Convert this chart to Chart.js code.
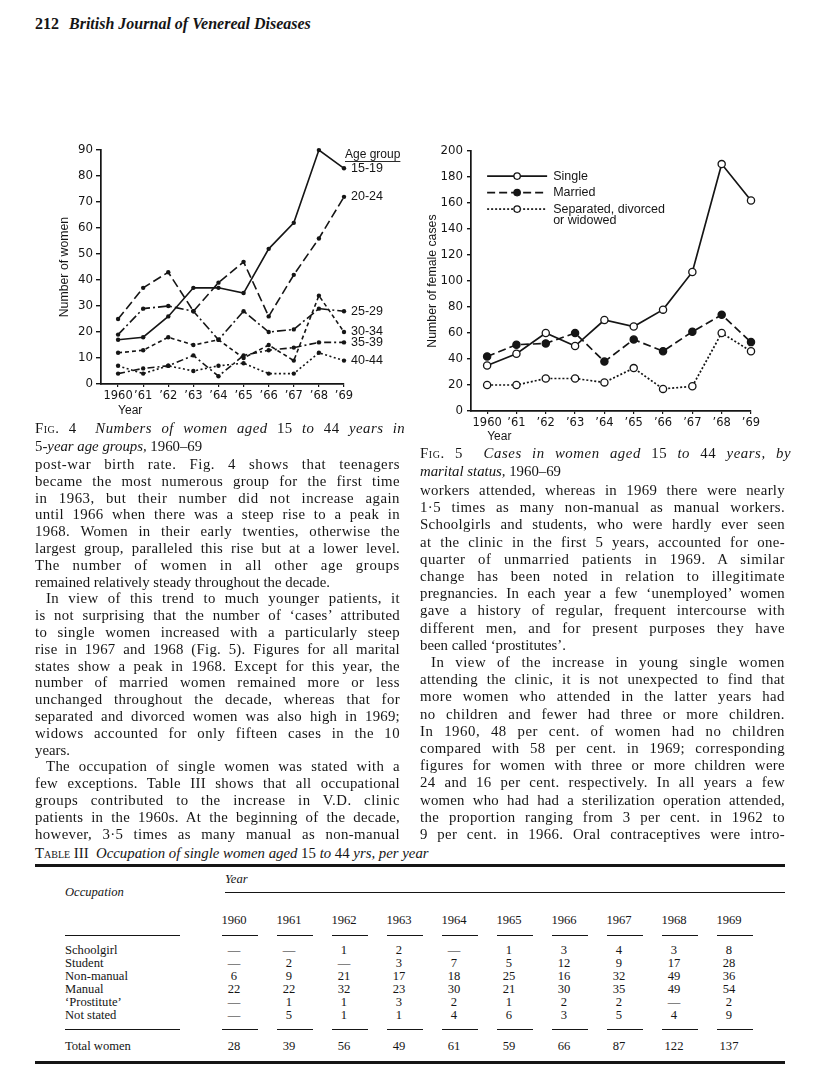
<!DOCTYPE html>
<html>
<head>
<meta charset="utf-8">
<script src="https://cdn.jsdelivr.net/npm/chart.js@4.4.0/dist/chart.umd.min.js"></script>
<style>
  body { margin: 0; width: 816px; height: 1087px; position: relative; overflow: hidden; background: #fff; color: #151515; font-family: "Liberation Serif", serif; }
  .abs { position: absolute; white-space: nowrap; }
  .col { position: absolute; width: 365px; font-size: 14.8px; line-height: 17px; }
  .col div { white-space: nowrap; }
  .col div.i { text-indent: 11px; }
  .sc { font-variant: small-caps; }
  .cap { font-size: 14.8px; line-height: 18px; }
  .rule { position: absolute; background: #151515; }
  .tbl { position: absolute; font-size: 12.6px; white-space: nowrap; }
</style>
</head>
<body>

<div class="abs" style="left:35px; top:15px; font-size:16px; font-weight:bold;">212 <i style="margin-left:6px;">British Journal of Venereal Diseases</i></div>

<div class="abs" style="left:50px; top:140px;"><canvas id="fig4" width="362" height="285"></canvas></div>
<div class="abs" style="left:420px; top:140px;"><canvas id="fig5" width="370" height="305"></canvas></div>

<div class="col cap" style="left:35px; top:419px;">
  <div class="j"><span class="sc">Fig</span>. 4 &nbsp;<i>Numbers of women aged</i> 15 <i>to</i> 44 <i>years in</i></div>
  <div>5<i>-year age groups,</i> 1960–69</div>
</div>
<div class="col cap" style="left:420px; top:444px;">
  <div class="j"><span class="sc">Fig</span>. 5 &nbsp;<i>Cases in women aged</i> 15 <i>to</i> 44 <i>years, by</i></div>
  <div><i>marital status,</i> 1960–69</div>
</div>

<div class="col" style="left:35px; top:456px; line-height:16.8px;">
  <div class="j">post-war birth rate. Fig. 4 shows that teenagers</div>
  <div class="j">became the most numerous group for the first time</div>
  <div class="j">in 1963, but their number did not increase again</div>
  <div class="j">until 1966 when there was a steep rise to a peak in</div>
  <div class="j">1968. Women in their early twenties, otherwise the</div>
  <div class="j">largest group, paralleled this rise but at a lower level.</div>
  <div class="j">The number of women in all other age groups</div>
  <div>remained relatively steady throughout the decade.</div>
  <div class="j i">In view of this trend to much younger patients, it</div>
  <div class="j">is not surprising that the number of ‘cases’ attributed</div>
  <div class="j">to single women increased with a particularly steep</div>
  <div class="j">rise in 1967 and 1968 (Fig. 5). Figures for all marital</div>
  <div class="j">states show a peak in 1968. Except for this year, the</div>
  <div class="j">number of married women remained more or less</div>
  <div class="j">unchanged throughout the decade, whereas that for</div>
  <div class="j">separated and divorced women was also high in 1969;</div>
  <div class="j">widows accounted for only fifteen cases in the 10</div>
  <div>years.</div>
  <div class="j i">The occupation of single women was stated with a</div>
  <div class="j">few exceptions. Table III shows that all occupational</div>
  <div class="j">groups contributed to the increase in V.D. clinic</div>
  <div class="j">patients in the 1960s. At the beginning of the decade,</div>
  <div class="j">however, 3·5 times as many manual as non-manual</div>
</div>

<div class="col" style="left:420px; top:482px; line-height:17.2px;">
  <div class="j">workers attended, whereas in 1969 there were nearly</div>
  <div class="j">1·5 times as many non-manual as manual workers.</div>
  <div class="j">Schoolgirls and students, who were hardly ever seen</div>
  <div class="j">at the clinic in the first 5 years, accounted for one-</div>
  <div class="j">quarter of unmarried patients in 1969. A similar</div>
  <div class="j">change has been noted in relation to illegitimate</div>
  <div class="j">pregnancies. In each year a few ‘unemployed’ women</div>
  <div class="j">gave a history of regular, frequent intercourse with</div>
  <div class="j">different men, and for present purposes they have</div>
  <div>been called ‘prostitutes’.</div>
  <div class="j i">In view of the increase in young single women</div>
  <div class="j">attending the clinic, it is not unexpected to find that</div>
  <div class="j">more women who attended in the latter years had</div>
  <div class="j">no children and fewer had three or more children.</div>
  <div class="j">In 1960, 48 per cent. of women had no children</div>
  <div class="j">compared with 58 per cent. in 1969; corresponding</div>
  <div class="j">figures for women with three or more children were</div>
  <div class="j">24 and 16 per cent. respectively. In all years a few</div>
  <div class="j">women who had had a sterilization operation attended,</div>
  <div class="j">the proportion ranging from 3 per cent. in 1962 to</div>
  <div class="j">9 per cent. in 1966. Oral contraceptives were intro-</div>
</div>

<div class="abs cap" style="left:35px; top:844px;"><span class="sc">Table III</span> &nbsp;<i>Occupation of single women aged</i> 15 <i>to</i> 44 <i>yrs, per year</i></div>
<div id="table"></div>

<script>
// Fig. 4 data
const years = [1960, 1961, 1962, 1963, 1964, 1965, 1966, 1967, 1968, 1969];
const yearLabels = ['1960', '’61', '’62', '’63', '’64', '’65', '’66', '’67', '’68', '’69'];
const ageGroups = ['15-19', '20-24', '25-29', '30-34', '35-39', '40-44'];
const age1519 = [17, 18, 26, 37, 37, 35, 52, 62, 90, 83];
const age2024 = [25, 37, 43, 28, 39, 47, 26, 42, 56, 72];
const age2529 = [19, 29, 30, 28, 17, 28, 20, 21, 29, 28];
const age3034 = [12, 13, 18, 15, 17, 10, 15, 9, 34, 20];
const age3539 = [4, 6, 7, 11, 3, 11, 13, 14, 16, 16];
const age4044 = [7, 4, 7, 5, 7, 8, 4, 4, 12, 9];

// Fig. 5 data
const statusNames = ['Single', 'Married', 'Separated, divorced|or widowed'];
const single = [35, 44, 60, 50, 70, 65, 78, 107, 190, 162];
const married = [42, 51, 52, 60, 38, 55, 46, 61, 74, 53];
const separated = [20, 20, 25, 25, 22, 33, 17, 19, 60, 46];

// Table III data
const occupations = ['Schoolgirl', 'Student', 'Non-manual', 'Manual', '‘Prostitute’', 'Not stated'];
const schoolgirl = ['—', '—', '1', '2', '—', '1', '3', '4', '3', '8'];
const student = ['—', '2', '—', '3', '7', '5', '12', '9', '17', '28'];
const nonManual = ['6', '9', '21', '17', '18', '25', '16', '32', '49', '36'];
const manual = ['22', '22', '32', '23', '30', '21', '30', '35', '49', '54'];
const prostitute = ['—', '1', '1', '3', '2', '1', '2', '2', '—', '2'];
const notStated = ['—', '5', '1', '1', '4', '6', '3', '5', '4', '9'];
const totalWomen = ['28', '39', '56', '49', '61', '59', '66', '87', '122', '137'];

const ink = '#151515';
const figFont = '"DejaVu Sans", sans-serif';
const labelFont = '"Liberation Sans", sans-serif';

// justify each text line to the column width
document.querySelectorAll('.col div.j').forEach(el => {
  el.style.display = 'inline-block';
  const w = el.getBoundingClientRect().width;
  const text = el.textContent.trim();
  const spaces = (text.match(/\s+/g) || []).length;
  const chars = text.length;
  const extra = 365 - w;
  el.style.display = 'block';
  if (extra > 0) {
    el.style.letterSpacing = (extra * 0.3 / chars) + 'px';
    el.style.wordSpacing = (extra * 0.7 / spaces) + 'px';
  } else {
    el.style.letterSpacing = (extra * 0.5 / chars) + 'px';
    el.style.wordSpacing = (extra * 0.5 / spaces) + 'px';
  }
});

function pts(vals) {
  return vals.map((v, i) => ({ x: years[i], y: v }));
}

function xScale(min, max, height) {
  return {
    type: 'linear', min: min, max: max,
    afterBuildTicks: s => { s.ticks = years.map(v => ({ value: v })); },
    afterFit: s => { s.height = height; },
    ticks: {
      callback: v => yearLabels[years.indexOf(v)],
      color: ink, font: { family: figFont, size: 11.5 }, padding: 2,
      maxRotation: 0, autoSkip: false
    },
    grid: { drawOnChartArea: false, drawTicks: true, tickLength: 3, color: ink, lineWidth: 1.2 },
    border: { color: ink, width: 1.7 }
  };
}

function yScale(max, step, width, tickLen, pad) {
  return {
    min: 0, max: max,
    afterFit: s => { s.width = width; },
    ticks: { stepSize: step, color: ink, font: { family: figFont, size: 11.8 }, padding: pad },
    grid: { drawOnChartArea: false, drawTicks: true, tickLength: tickLen, color: ink, lineWidth: 1.4 },
    border: { color: ink, width: 1.7 }
  };
}

function drawYTitle(ctx, text, x, y) {
  ctx.save();
  ctx.translate(x, y);
  ctx.rotate(-Math.PI / 2);
  ctx.textAlign = 'center';
  ctx.textBaseline = 'middle';
  ctx.fillStyle = ink;
  ctx.font = '12.3px ' + labelFont;
  ctx.fillText(text, 0, 0);
  ctx.restore();
}

const fig4Labels = {
  id: 'fig4Labels',
  afterDraw(chart) {
    const ctx = chart.ctx;
    const area = chart.chartArea;
    ctx.save();
    ctx.fillStyle = ink;
    ctx.font = '12.5px ' + labelFont;
    ctx.textBaseline = 'middle';
    chart.data.datasets.forEach((ds, i) => {
      const p = chart.getDatasetMeta(i).data[years.length - 1];
      ctx.fillText(ageGroups[i], p.x + 7, p.y);
    });
    const last = chart.getDatasetMeta(0).data[years.length - 1];
    ctx.font = '12px ' + labelFont;
    ctx.fillText('Age group', last.x + 1, area.top + 5);
    const w = ctx.measureText('Age group').width;
    ctx.fillRect(last.x + 1, area.top + 11, w, 0.9);
    ctx.textBaseline = 'top';
    ctx.font = '12px ' + labelFont;
    const x0 = chart.scales.x.getPixelForValue(years[0]);
    ctx.fillText('Year', x0, area.bottom + 21);
    ctx.restore();
    drawYTitle(ctx, 'Number of women', 15, (area.top + area.bottom) / 2);
  }
};

const fig5Legend = {
  id: 'fig5Legend',
  afterDraw(chart) {
    const ctx = chart.ctx;
    const area = chart.chartArea;
    const x0 = chart.scales.x.getPixelForValue(years[0]);
    ctx.save();
    chart.data.datasets.forEach((ds, i) => {
      const y = area.top + 25 + i * 16.5;
      ctx.strokeStyle = ink;
      ctx.lineWidth = ds.borderWidth;
      ctx.setLineDash(ds.borderDash || []);
      ctx.beginPath();
      ctx.moveTo(x0, y);
      ctx.lineTo(x0 + 60, y);
      ctx.stroke();
      ctx.setLineDash([]);
      ctx.beginPath();
      ctx.arc(x0 + 30, y, 3.2, 0, Math.PI * 2);
      ctx.fillStyle = ds.pointBackgroundColor;
      ctx.fill();
      ctx.lineWidth = 1.3;
      ctx.stroke();
      ctx.fillStyle = ink;
      ctx.font = '12.5px ' + labelFont;
      ctx.textBaseline = 'middle';
      statusNames[i].split('|').forEach((t, k) => ctx.fillText(t, x0 + 66, y + k * 11));
    });
    ctx.textBaseline = 'top';
    ctx.font = '12px ' + labelFont;
    ctx.fillText('Year', x0, area.bottom + 20);
    ctx.restore();
    drawYTitle(ctx, 'Number of female cases', 13, (area.top + area.bottom) / 2);
  }
};

const fig4Styles = [[], [9, 4], [9, 3, 2, 3], [4, 3], [7, 3, 2, 3], [2, 2.5]];
const ageSeries = [age1519, age2024, age2529, age3034, age3539, age4044];

new Chart(document.getElementById('fig4'), {
  type: 'line',
  data: {
    datasets: ageSeries.map((vals, i) => ({
      label: ageGroups[i],
      data: pts(vals),
      borderColor: ink,
      borderWidth: 1.6,
      borderDash: fig4Styles[i],
      pointRadius: 2.2,
      pointBackgroundColor: ink,
      pointBorderWidth: 0,
      tension: 0,
      clip: false
    }))
  },
  options: {
    responsive: false,
    animation: false,
    layout: { padding: { top: 10, right: 68, left: 0, bottom: 0 } },
    plugins: { legend: { display: false }, tooltip: { enabled: false } },
    scales: {
      x: xScale(1959.32, 1969, 41),
      y: yScale(90, 10, 51, 5, 3)
    }
  },
  plugins: [fig4Labels]
});

const statusSeries = [single, married, separated];
const fig5Styles = [[], [8, 4], [2, 2]];
const fig5Fill = ['#fff', ink, '#fff'];

new Chart(document.getElementById('fig5'), {
  type: 'line',
  data: {
    datasets: statusSeries.map((vals, i) => ({
      label: statusNames[i],
      data: pts(vals),
      borderColor: ink,
      borderWidth: 1.7,
      borderDash: fig5Styles[i],
      pointRadius: 3.6,
      pointBackgroundColor: fig5Fill[i],
      pointBorderColor: ink,
      pointBorderWidth: 1.3,
      tension: 0,
      clip: false
    }))
  },
  options: {
    responsive: false,
    animation: false,
    layout: { padding: { top: 11, right: 39, left: 0, bottom: 0 } },
    plugins: { legend: { display: false }, tooltip: { enabled: false } },
    scales: {
      x: xScale(1959.45, 1969, 34),
      y: yScale(200, 20, 51, 4, 4)
    }
  },
  plugins: [fig5Legend]
});

// Table III
const tbl = document.getElementById('table');
function cell(text, x, y, opts) {
  const d = document.createElement('div');
  d.className = 'tbl';
  d.textContent = text;
  d.style.left = x + 'px';
  d.style.top = (y - 8) + 'px';
  if (opts && opts.center) { d.style.width = '40px'; d.style.marginLeft = '-20px'; d.style.textAlign = 'center'; }
  if (opts && opts.italic) d.style.fontStyle = 'italic';
  tbl.appendChild(d);
}
function rule(x, y, w, h) {
  const d = document.createElement('div');
  d.className = 'rule';
  d.style.left = x + 'px'; d.style.top = y + 'px';
  d.style.width = w + 'px'; d.style.height = h + 'px';
  tbl.appendChild(d);
}
const colX = years.map((v, i) => 234 + i * 55);
rule(35, 864, 750, 2.6);
cell('Year', 225, 880, { italic: true });
rule(225, 892, 560, 0.8);
cell('Occupation', 65, 893, { italic: true });
years.forEach((v, i) => cell(String(v), colX[i], 921, { center: true }));
[935, 1029].forEach(y => {
  rule(65, y, 115, 1);
  colX.forEach(x => rule(x - 12, y, 36, 1));
});
const rows = [schoolgirl, student, nonManual, manual, prostitute, notStated];
rows.forEach((r, k) => {
  const y = 951 + k * 13;
  cell(occupations[k], 65, y);
  r.forEach((t, i) => cell(t, colX[i], y, { center: true }));
});
cell('Total women', 65, 1047);
totalWomen.forEach((t, i) => cell(t, colX[i], 1047, { center: true }));
rule(35, 1061, 750, 2.6);
</script>
</body>
</html>
